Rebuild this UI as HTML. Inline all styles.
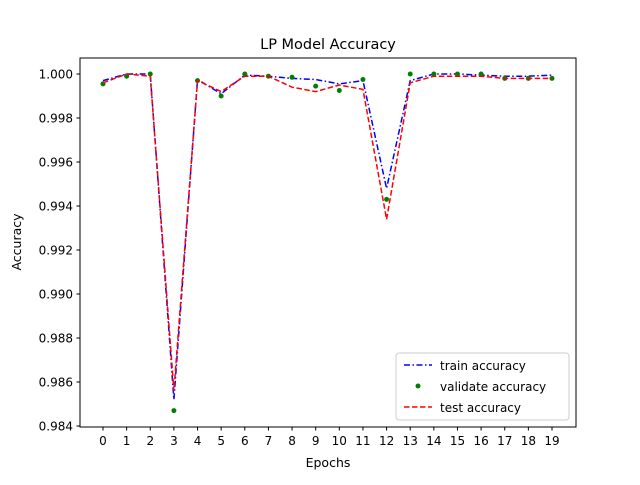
<!DOCTYPE html>
<html><head><meta charset="utf-8"><style>
body{margin:0;background:#fff;}
svg{font-family:"DejaVu Sans","Liberation Sans",sans-serif;}
</style></head><body>
<svg id="chart" width="640" height="480" xmlns="http://www.w3.org/2000/svg">
<rect width="640" height="480" fill="#fff"/>
<text x="328" y="49" font-size="14.5" text-anchor="middle">LP Model Accuracy</text>
<g id="plot"></g>
<rect x="80" y="58" width="496" height="369" fill="none" stroke="#000" stroke-width="1"/>
<text x="328" y="467" font-size="12.5" text-anchor="middle">Epochs</text>
<text transform="translate(21,242) rotate(-90)" font-size="12.5" text-anchor="middle">Accuracy</text>
<g>
<rect x="396" y="353" width="173" height="67" rx="3" fill="#fff" fill-opacity="0.8" stroke="#ccc"/>
<line x1="404" y1="365" x2="432" y2="365" stroke="blue" stroke-width="1.5" stroke-dasharray="6,2.5,1.5,2.5"/>
<text x="440" y="370" font-size="12">train accuracy</text>
<circle cx="418" cy="386" r="2.5" fill="green"/>
<text x="440" y="391" font-size="12">validate accuracy</text>
<line x1="404" y1="407" x2="432" y2="407" stroke="red" stroke-width="1.5" stroke-dasharray="5.5,2.5"/>
<text x="440" y="412" font-size="12">test accuracy</text>
</g>
</svg>
<script>
const epochs=[0,1,2,3,4,5,6,7,8,9,10,11,12,13,14,15,16,17,18,19];
const trainAcc=[0.99970,1.0000,1.0000,0.9852,0.99975,0.9991,0.99995,0.9999,0.9998,0.99975,0.99955,0.9997,0.9948,0.9997,1.0000,1.0000,0.99995,0.9999,0.9999,0.99995];
const validateAcc=[0.99955,0.9999,1.0000,0.9847,0.9997,0.9990,1.0000,0.9999,0.99985,0.99945,0.99925,0.99975,0.9943,1.0000,1.0000,1.0000,1.0000,0.9998,0.9998,0.9998];
const testAcc=[0.9996,1.0000,0.9999,0.9856,0.9997,0.9992,0.9999,0.9999,0.9994,0.9992,0.9995,0.9993,0.9934,0.9996,0.9999,0.9999,0.9999,0.9998,0.9998,0.9998];
const yTicks=[0.984,0.986,0.988,0.990,0.992,0.994,0.996,0.998,1.000];
const NS="http://www.w3.org/2000/svg";
const g=document.getElementById('plot');
function xs(v){return 103+v*(552-103)/19;}
function ys(v){return 426-(v-0.984)*(426-74)/0.016;}
function mk(t,a){const e=document.createElementNS(NS,t);for(const k in a)e.setAttribute(k,a[k]);g.appendChild(e);return e;}
epochs.forEach(v=>{
 const l=mk('line',{x1:xs(v),x2:xs(v),y1:427,y2:430.5,stroke:'#000'});
 
 
 const t=mk('text',{x:xs(v),y:445,'font-size':12,'text-anchor':'middle'});t.textContent=v;
 
 
});
yTicks.forEach(v=>{
 const l=mk('line',{x1:76.5,x2:80,y1:ys(v),y2:ys(v),stroke:'#000'});
 
 
 const t=mk('text',{x:73,y:ys(v)+4.5,'font-size':12,'text-anchor':'end'});t.textContent=v.toFixed(3);
 
 
});
function pts(a){return a.map((v,i)=>xs(epochs[i])+','+ys(v)).join(' ');}
const tr=mk('polyline',{points:pts(trainAcc),fill:'none',stroke:'blue','stroke-width':1.5,'stroke-dasharray':'6,2.5,1.5,2.5'});


validateAcc.forEach((v,i)=>{
 const c=mk('circle',{cx:xs(epochs[i]),cy:ys(v),r:2.5,fill:'green'});
 
 
});
const te=mk('polyline',{points:pts(testAcc),fill:'none',stroke:'red','stroke-width':1.5,'stroke-dasharray':'5.5,2.5'});


</script>
</body></html>
